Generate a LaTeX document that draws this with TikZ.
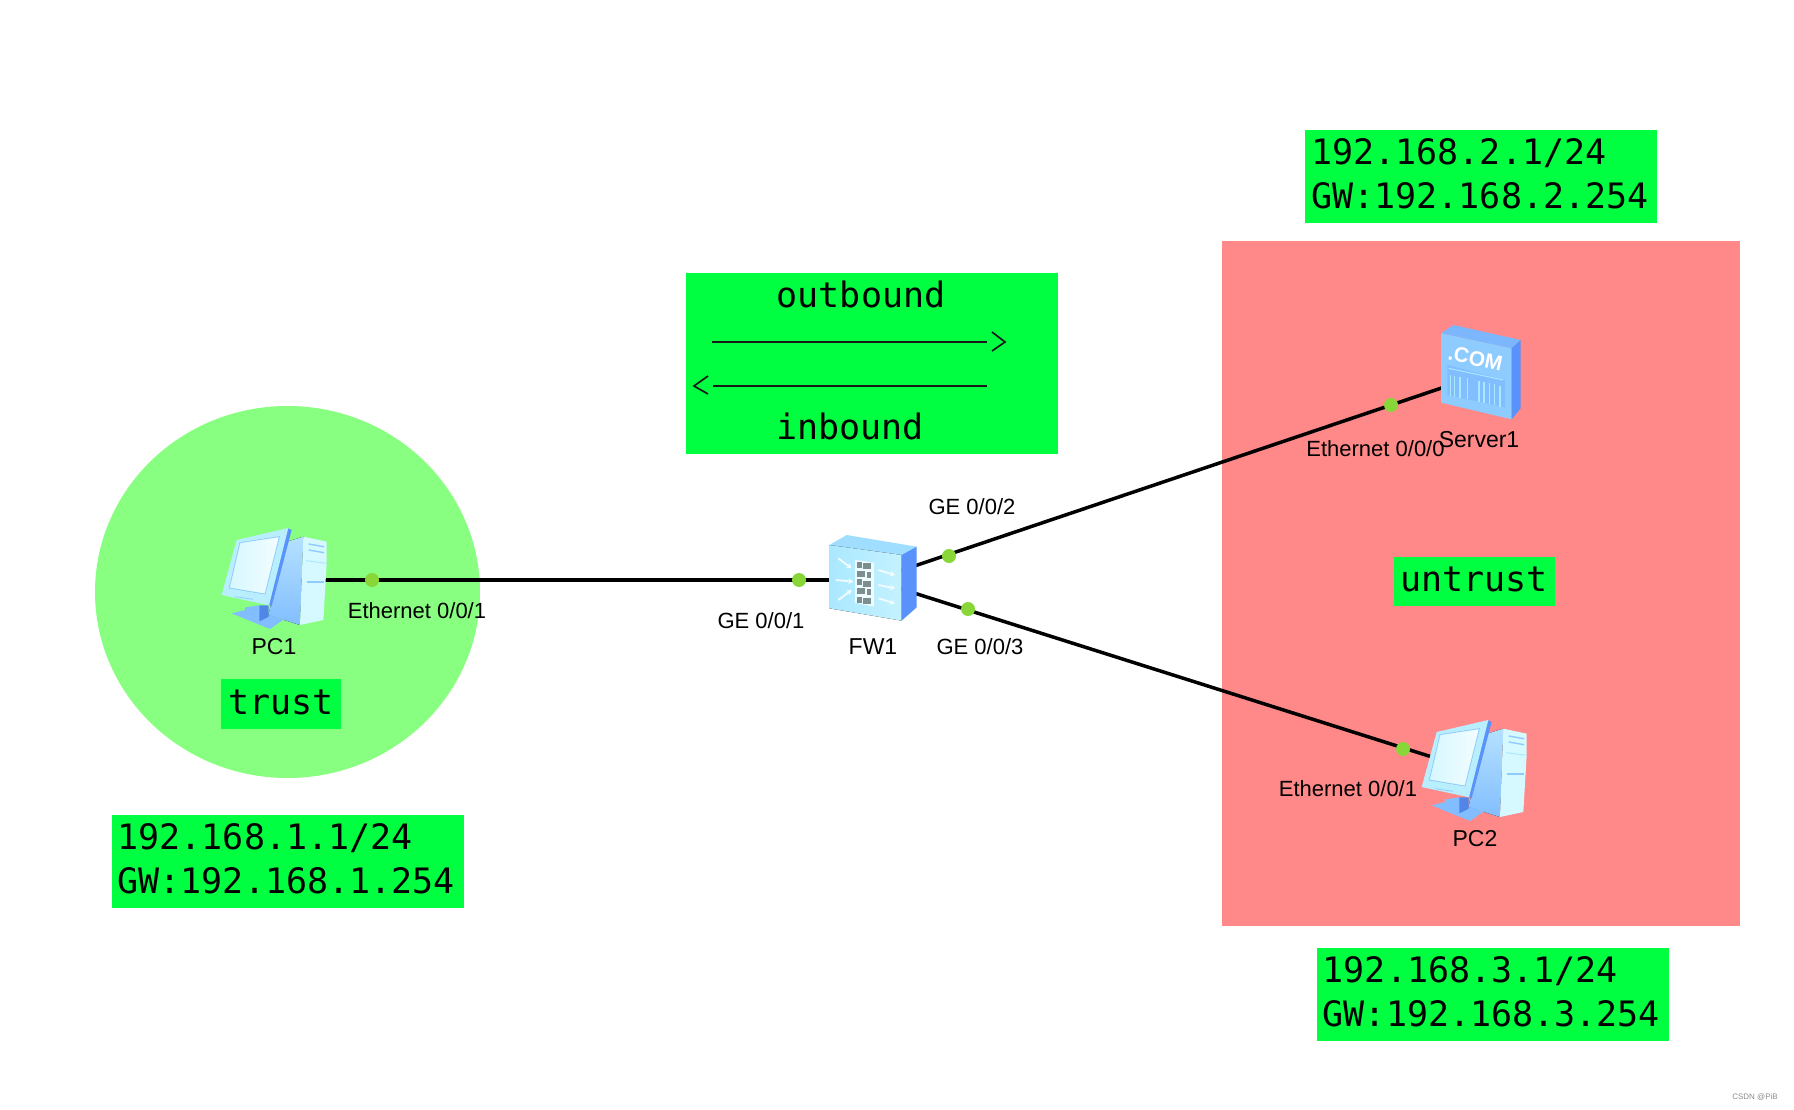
\documentclass[tikz,border=0pt]{standalone}
\usepackage{fontspec}
\setmainfont{Liberation Sans}
\newfontfamily\boxfont{DejaVu Sans Mono}
\usetikzlibrary{calc,arrows.meta}

\definecolor{zonegreen}{RGB}{0,255,64}
\definecolor{trustfill}{RGB}{136,255,128}
\definecolor{untrustfill}{RGB}{255,136,136}
\definecolor{portgreen}{RGB}{136,214,56}
\definecolor{iconpale}{RGB}{214,248,255}
\definecolor{iconlight}{RGB}{170,232,255}
\definecolor{iconmid}{RGB}{130,190,255}
\definecolor{icondark}{RGB}{88,146,250}
\definecolor{brickgray}{RGB}{125,142,142}

\tikzset{
	greenbox/.style={fill=zonegreen, inner sep=0pt, font=\boxfont\fontsize{35}{44}\selectfont},
	zonebox/.style={greenbox, text height=27pt, text depth=7pt},
	ipbox/.style={greenbox, text width=340pt, inner xsep=6pt, minimum height=93pt, align=left, execute at end node={\par\vspace{5pt}}},
	boxtext/.style={inner sep=0pt, font=\boxfont\fontsize{35}{44}\selectfont},
	portlabel/.style={inner sep=0pt, font=\fontsize{22}{24}\selectfont},
	devlabel/.style={inner sep=0pt, font=\fontsize{23}{24}\selectfont},
	portdot/.style={circle, fill=portgreen, inner sep=0pt, minimum size=14pt},
	iconspot/.style={inner sep=0pt, minimum size=0pt},
	cable/.style={line width=3.5pt, color=black},
	flowline/.style={line width=1.5pt, color=black!90},
	flowtip/.style={line width=1.7pt, color=black!90, line join=miter}
}

% icons are drawn in the pixels of a 3x crop, about their own centre
\def\pcicon(#1){
	\begin{scope}[shift={(#1)}, x=0.3333pt, y=-0.3333pt, shift={(-225,-234)}]
		\fill[top color=iconpale!60!iconmid, bottom color=iconmid] (262,125) -- (310,110) -- (300,375) -- (205,345) -- cycle;
		\fill[iconpale] (310,110) -- (380,125) -- (380,190) -- (370,360) -- (300,375) -- cycle;
		\draw[iconmid!70!iconlight, line width=1.4pt] (326,132) -- (372,140);
		\draw[iconmid!70!iconlight, line width=1.4pt] (326,150) -- (372,158);
		\draw[iconlight, line width=1pt] (318,182) -- (380,190);
		\draw[iconmid!70!iconlight, line width=1.6pt] (320,246) -- (372,246);
		\fill[iconmid] (95,340) -- (135,330) -- (205,345) -- (252,358) -- (210,387) -- cycle;
		\fill[iconmid] (135,322) -- (178,316) -- (178,362) -- (135,345) -- cycle;
		\fill[icondark!92!black] (178,316) -- (206,316) -- (206,350) -- (178,364) -- cycle;
		\fill[icondark] (262,84) -- (275,90) -- (215,318) -- (204,312) -- cycle;
		\fill[iconlight!65!iconpale] (110,120) -- (265,84) -- (207,316) -- (65,285) -- cycle;
		\fill[left color=iconpale, right color=iconpale!30!white, draw=iconmid!50!iconlight, line width=0.8pt] (120,128) -- (238,110) -- (195,282) -- (88,264) -- cycle;
		\draw[iconmid!60!iconlight, line width=0.8pt] (105,290) -- (160,298);
	\end{scope}
}

\def\fwicon(#1){
	\begin{scope}[shift={(#1)}, x=0.3333pt, y=-0.3333pt, shift={(-579,-954)}]
		\fill[iconlight!75!iconmid] (448,855) -- (500,825) -- (710,860) -- (665,885) -- cycle;
		\fill[left color=iconlight, right color=iconpale!60!iconlight] (448,855) -- (665,885) -- (665,1082) -- (448,1045) -- cycle;
		\fill[icondark] (665,885) -- (710,860) -- (710,1042) -- (665,1082) -- cycle;
		\fill[iconpale!40!white] (525,900) -- (582,908) -- (582,1040) -- (525,1028) -- cycle;
		\foreach \row in {0,2,4}{
			\fill[brickgray] (530,{906+26*\row}) rectangle ++(15,18);
			\fill[brickgray] (550,{910+26*\row}) rectangle ++(24,18);
		}
		\foreach \row in {1,3}{
			\fill[brickgray] (530,{906+26*\row}) rectangle ++(24,18);
			\fill[brickgray] (560,{910+26*\row}) rectangle ++(14,18);
		}
		\foreach \xa/\ya/\xb/\yb in {475/895/515/925, 468/960/520/965, 475/1020/515/990, 595/930/645/945, 595/975/645/985, 595/1015/645/1030}{
			\draw[iconpale!35!white, line width=1.8pt, -{Stealth[length=5pt,width=6pt]}] (\xa,\ya) -- (\xb,\yb);
		}
	\end{scope}
}

\def\servericon(#1){
	\begin{scope}[shift={(#1)}, x=0.3333pt, y=-0.3333pt, shift={(-600,-216)}]
		\fill[iconmid!85!icondark] (483,100) -- (520,75) -- (722,120) -- (695,145) -- cycle;
		\fill[iconmid!70!iconlight] (483,100) -- (695,145) -- (695,358) -- (483,308) -- cycle;
		\fill[icondark] (695,145) -- (722,120) -- (722,325) -- (695,358) -- cycle;
		\fill[iconmid] (502,195) -- (675,240) -- (675,322) -- (502,285) -- cycle;
		\draw[iconlight, line width=1pt] (506,205) -- (670,240);
		\foreach \barx in {512,524,540,562,597,612,628,644,660}{
			\draw[iconlight, line width=1.4pt] (\barx,{222+0.22*(\barx-502)}) -- (\barx,{285+0.22*(\barx-502)});
		}
		\node[rotate=-12, inner sep=0pt, text=white, font=\bfseries\fontsize{21}{24}\selectfont] (comtext) at (586,175) {.COM};
	\end{scope}
}

\begin{document}
\begin{tikzpicture}[x=1pt, y=-1pt]
	%%%%% ZONES %%%%%
	\useasboundingbox (0, 0) rectangle (1794, 1110);
	
	\fill[trustfill] (287.5, 592) ellipse (192.5 and 186);
	\fill[untrustfill] (1221.5, 241.5) rectangle (1739.5, 925.5);
	
	\node[ipbox] (trustaddr) at (287.6, 861.5) {192.168.1.1/24\\GW:192.168.1.254};
	\node[ipbox] (serveraddr) at (1481.4, 176.5) {192.168.2.1/24\\GW:192.168.2.254};
	\node[ipbox] (pctwoaddr) at (1492.8, 994) {192.168.3.1/24\\GW:192.168.3.254};
	\node[zonebox, minimum width=120pt, minimum height=50pt] (trustzone) at (281, 704) {trust};
	\node[zonebox, minimum width=161pt, minimum height=49pt] (untrustzone) at (1474, 581.5) {untrust};
	
	%%%%% DIRECTIONS %%%%%
	\node[greenbox, minimum width=372pt, minimum height=181pt] (flowbox) at (872, 363.5) {};
	\node[boxtext] (outlabel) at (861, 294) {outbound};
	\node[boxtext] (inlabel) at (850, 426) {inbound};
	
	\coordinate (outa) at (712, 342);
	\coordinate (outb) at (987, 342);
	\coordinate (ina) at (987, 386);
	\coordinate (inb) at (713, 386);
	\draw[flowline] (outa) -- (outb);
	\draw[flowtip] ($(outb)+(5, -10)$) -- ($(outb)+(18, 0)$) -- ($(outb)+(5, 9)$);
	\draw[flowline] (ina) -- (inb);
	\draw[flowtip] ($(inb)+(-5, -10)$) -- ($(inb)+(-19, 0)$) -- ($(inb)+(-5, 8)$);
	
	%%%%% DEVICES %%%%%
	\node[iconspot] (pcone) at (275, 580) {};
	\node[iconspot] (fwone) at (873, 580) {};
	\node[iconspot] (serverone) at (1480, 375) {};
	\node[iconspot] (pctwo) at (1473, 770) {};
	
	\draw[cable] (pcone) -- (fwone);
	\draw[cable] (fwone) -- (serverone);
	\draw[cable] (fwone) -- (pctwo);
	
	\pcicon(275, 578)
	\fwicon(873, 578)
	\servericon(1480, 372)
	\pcicon(1475, 770)
	
	\node[portdot] (portpcone) at (372, 580) {};
	\node[portdot] (portfwa) at (799, 580) {};
	\node[portdot] (portfwb) at (949, 556) {};
	\node[portdot] (portfwc) at (968, 609) {};
	\node[portdot] (portserver) at (1391, 405) {};
	\node[portdot] (portpctwo) at (1403, 749) {};
	
	%%%%% LABELS %%%%%
	\node[devlabel] (pconetext) at (274, 647) {PC1};
	\node[devlabel] (fwonetext) at (873, 647) {FW1};
	\node[devlabel] (serveronetext) at (1479, 440) {Server1};
	\node[devlabel] (pctwotext) at (1475, 839) {PC2};
	
	\node[portlabel] (ethpcone) at (417, 611) {Ethernet 0/0/1};
	\node[portlabel] (gefwa) at (761, 621) {GE 0/0/1};
	\node[portlabel] (gefwb) at (972, 507) {GE 0/0/2};
	\node[portlabel] (gefwc) at (980, 647) {GE 0/0/3};
	\node[portlabel] (ethserver) at (1375.5, 449) {Ethernet 0/0/0};
	\node[portlabel] (ethpctwo) at (1348, 789) {Ethernet 0/0/1};
	
	\node[inner sep=0pt, text=black!45, font=\fontsize{8}{9}\selectfont] (watermark) at (1755, 1097) {CSDN @PiB};
\end{tikzpicture}
\end{document}
